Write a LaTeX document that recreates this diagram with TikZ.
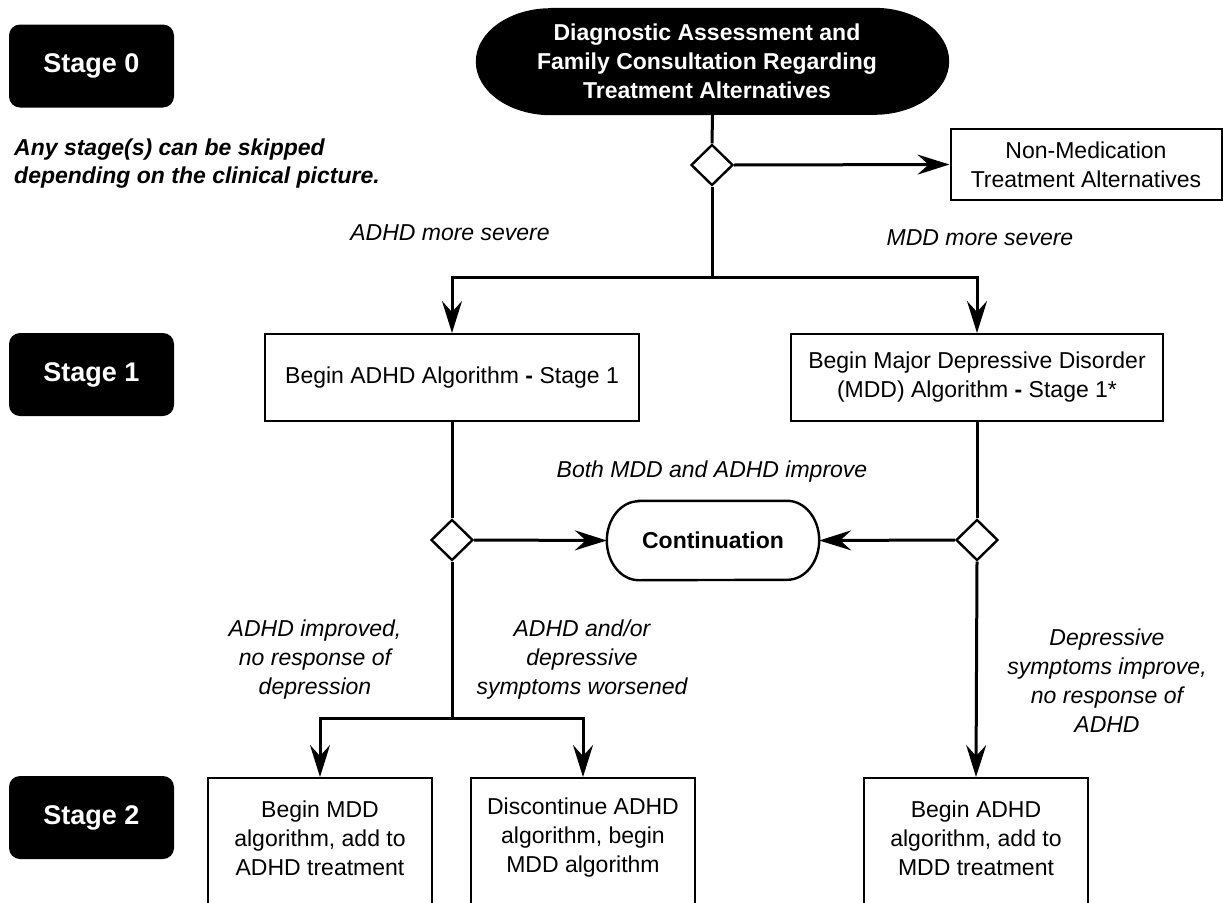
\documentclass[tikz,border=0pt]{standalone}
\usepackage{fontspec}
\setmainfont{Liberation Sans}
\usetikzlibrary{arrows.meta,shapes.geometric}
\begin{document}
\begin{tikzpicture}[x=1pt,y=-1pt,
  txt/.style={font=\fontsize{23}{29}\selectfont, align=center, inner sep=0pt},
  lab/.style={align=center, inner sep=0pt, font=\fontsize{23}{29}\selectfont\itshape},
  box/.style={draw=black, line width=2pt, fill=white, inner sep=0pt, align=center, font=\fontsize{23}{29}\selectfont},
  stagebox/.style={fill=black, rounded corners=11pt, minimum width=165pt, minimum height=83pt, inner sep=0pt, text=white, font=\fontsize{27}{32}\selectfont\bfseries},
  dec/.style={diamond, draw=black, line width=2.4pt, fill=white, minimum width=42pt, minimum height=41pt, inner sep=0pt},
  conn/.style={draw=black, line width=3pt},
  arr/.style={conn, -{Stealth[length=32pt,width=20pt,inset=11pt]}},
]
\fill[white] (0,0) rectangle (1223,902);
\useasboundingbox (0,0) rectangle (1223,902);
\clip (0,0) rectangle (1223,902);

% stage labels
\node[stagebox] (st0) at (91.5,66) {Stage 0};
\node[stagebox] (st1) at (91.5,374.5) {Stage 1};
\node[stagebox] (st2) at (91.5,817.5) {Stage 2};

\node[anchor=west, align=left, inner sep=0pt, font=\fontsize{23}{28}\selectfont\bfseries\itshape] (note) at (14,164) {Any stage(s) can be skipped\\depending on the clinical picture.};

% main pill
\node[minimum width=473pt, minimum height=107pt, inner sep=0pt] (diag) at (712.5,61.5) {};
\fill[black] ([xshift=75pt]diag.north west) -- ([xshift=-75pt]diag.north east)
  arc[start angle=90,end angle=-90,x radius=75pt,y radius=53.5pt]
  -- ([xshift=75pt]diag.south west)
  arc[start angle=270,end angle=90,x radius=75pt,y radius=53.5pt] -- cycle;
\node[txt, text=white, font=\fontsize{23}{29}\selectfont\bfseries] (diagtext) at (707,61.5) {Diagnostic Assessment and\\Family Consultation Regarding\\Treatment Alternatives};

\node[dec] (d1) at (712,165) {};
\node[box, minimum width=271pt, minimum height=71pt] (nonmed) at (1086,164.5) {Non-Medication\\Treatment Alternatives};

\node[lab] (l1) at (450,233) {ADHD more severe};
\node[lab] (l2) at (980,238) {MDD more severe};

% stage 1
\node[box, minimum width=374pt, minimum height=87pt] (adhd1) at (452,377.5) {Begin ADHD Algorithm {\bfseries -} Stage 1};
\node[box, minimum width=372pt, minimum height=87pt] (mdd1) at (977,377.5) {Begin Major Depressive Disorder\\(MDD) Algorithm {\bfseries -} Stage 1*};

\node[lab] (l3) at (712,472) {Both MDD and ADHD improve};

\node[dec] (d2) at (452,540) {};
\node[dec] (d3) at (977,540) {};

\node[minimum width=212pt, minimum height=79pt, inner sep=0pt] (cont) at (713,540.5) {};
\draw[line width=2.4pt, fill=white] ([xshift=32pt]cont.north west) -- ([xshift=-32pt]cont.north east)
  arc[start angle=90,end angle=-90,x radius=32pt,y radius=39.5pt]
  -- ([xshift=32pt]cont.south west)
  arc[start angle=270,end angle=90,x radius=32pt,y radius=39.5pt] -- cycle;
\node[txt, font=\fontsize{23}{29}\selectfont\bfseries] (conttext) at (cont) {Continuation};

\node[lab] (l4) at (315,660) {ADHD improved,\\no response of\\depression};
\node[lab] (l5) at (582,660) {ADHD and/or\\depressive\\symptoms worsened};
\node[lab] (l6) at (1107,681) {Depressive\\symptoms improve,\\no response of\\ADHD};

% stage 2
\node[draw=black, line width=2pt, fill=white, minimum width=224pt, minimum height=160pt, anchor=north] (s2a) at (320,777) {};
\node[txt] (s2at) at (320,838) {Begin MDD\\algorithm, add to\\ADHD treatment};
\node[draw=black, line width=2pt, fill=white, minimum width=224pt, minimum height=160pt, anchor=north] (s2b) at (583,777) {};
\node[txt] (s2bt) at (583,838) {Discontinue ADHD\\algorithm, begin\\MDD algorithm};
\node[draw=black, line width=2pt, fill=white, minimum width=224pt, minimum height=160pt, anchor=north] (s2c) at (976,777) {};
\node[txt] (s2ct) at (976,838) {Begin ADHD\\algorithm, add to\\MDD treatment};

% connectors
\draw[conn] (diag.south) -- (d1.north);
\draw[arr] (d1.east) -- (nonmed.west);
\coordinate (b1) at (712,277);
\draw[conn] (d1.south) -- (b1);
\draw[arr] (b1) -| (adhd1.north);
\draw[arr] (b1) -| (mdd1.north);
\draw[conn] (adhd1.south) -- (d2.north);
\draw[conn] (mdd1.south) -- (d3.north);
\draw[arr] (d2.east) -- (cont.west);
\draw[arr] (d3.west) -- (cont.east);
\coordinate (b2) at (452,718);
\draw[conn] (d2.south) -- (b2);
\draw[arr] (b2) -| (s2a.north);
\draw[arr] (b2) -| (s2b.north);
\draw[arr] (d3.south) -- (s2c.north);
\end{tikzpicture}
\end{document}
